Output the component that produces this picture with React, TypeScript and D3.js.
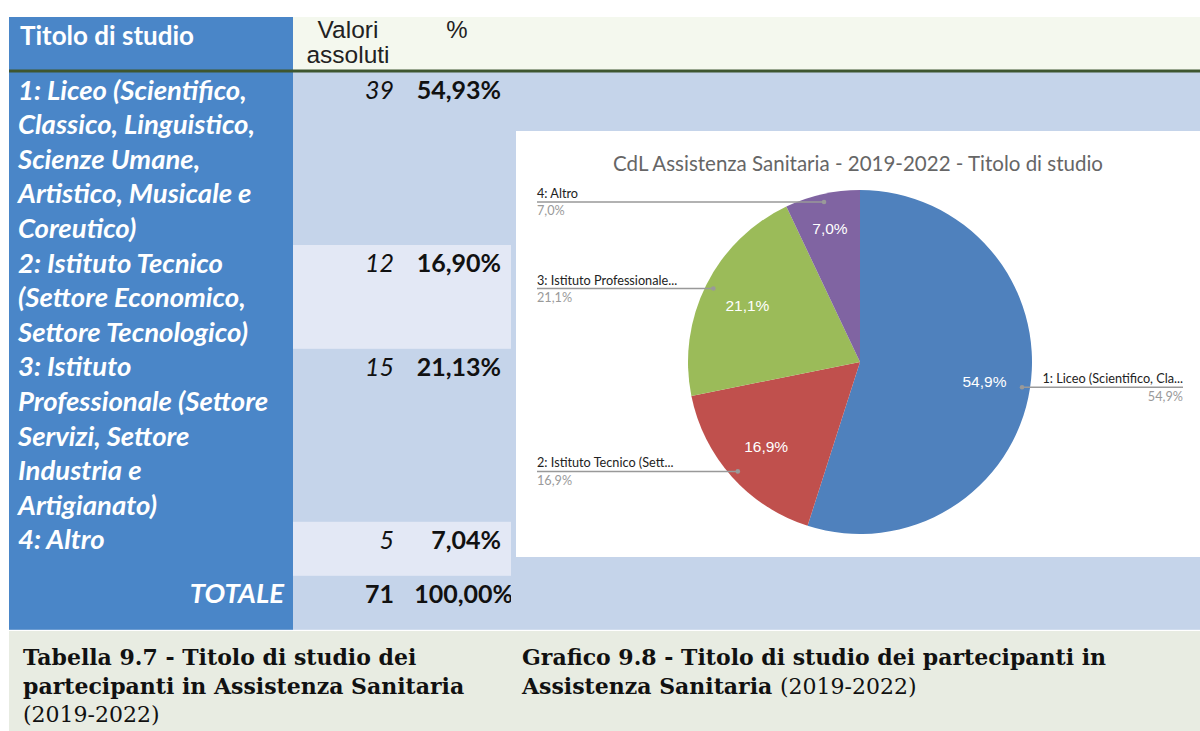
import * as d3 from 'd3';

// table rows as wrapped in the reference
const tableLines = [
  ['1: Liceo (Scientifico,', 'Classico, Linguistico,', 'Scienze Umane,', 'Artistico, Musicale e', 'Coreutico)'],
  ['2: Istituto Tecnico', '(Settore Economico,', 'Settore Tecnologico)'],
  ['3: Istituto', 'Professionale (Settore', 'Servizi, Settore', 'Industria e', 'Artigianato)'],
  ['4: Altro'],
];
const counts = [39, 12, 15, 5];
const chartLabels = [
  '1: Liceo (Scientifico, Cla...',
  '2: Istituto Tecnico (Sett...',
  '3: Istituto Professionale...',
  '4: Altro',
];
const colors = ['#4F81BD', '#C0504D', '#9BBB59', '#8064A2'];

const chartTitle = 'CdL Assistenza Sanitaria - 2019-2022 - Titolo di studio';
const caption1 = ['Tabella 9.7 - Titolo di studio dei', 'partecipanti in Assistenza Sanitaria'];
const caption1Year = '(2019-2022)';
const caption2 = ['Grafico 9.8 - Titolo di studio dei partecipanti in', 'Assistenza Sanitaria '];

const W = 1200;
const H = 731;
const colLeft = 9;
const colBlue = 293;
const colVal = 511;
const lineH = 34.6;
const sans = 'Lato, "Open Sans", sans-serif';
const arial = '"Liberation Sans", Arial, sans-serif';
const serif = '"DejaVu Serif", serif';

const it = d3.formatLocale({ decimal: ',', thousands: '.', grouping: [3], currency: ['', '€'] });
const pct2 = it.format('.2%');
const pct1 = it.format('.1%');

export default function App() {
  const total = d3.sum(counts);

  // row tops from the number of wrapped lines
  const rows = [];
  let top = 72;
  tableLines.forEach((lines, i) => {
    const h = Math.max(lines.length * lineH, 54);
    rows.push({ lines, top, h, count: counts[i], share: counts[i] / total, light: i % 2 === 1 });
    top += h;
  });
  const totalTop = top;

  const cx = 860;
  const cy = 362;
  const r = 172;
  const pie = d3.pie<number>().sort(null).startAngle(0).endAngle(2 * Math.PI);
  const arcs = pie(counts);
  const arc = d3.arc<d3.PieArcDatum<number>>().innerRadius(0).outerRadius(r);
  const labelArc = (d) => {
    const lr = d.endAngle - d.startAngle < 0.6 ? 137 : 126;
    return d3.arc<d3.PieArcDatum<number>>().innerRadius(lr).outerRadius(lr).centroid(d);
  };
  const dotArc = d3.arc<d3.PieArcDatum<number>>().innerRadius(164).outerRadius(164);

  return (
    <div style={{ position: 'absolute', left: 0, top: 0 }}>
      <svg width={W} height={H} style={{ display: 'block' }}>
        <defs>
          <clipPath id="valClip">
            <rect x={colBlue} y={0} width={colVal - colBlue} height={H} />
          </clipPath>
        </defs>
        <rect width={W} height={H} fill="#fff" />

        {/* header */}
        <rect x={colLeft} y={17} width={colBlue - colLeft} height={53} fill="#4A86C8" />
        <rect x={colBlue} y={17} width={W - colBlue} height={53} fill="#F4F8EE" />
        <text x={20} y={45} fill="#fff" fontFamily={sans} fontWeight={700} fontSize={26}>
          Titolo di studio
        </text>
        <text x={348} y={38} textAnchor="middle" fill="#222" fontFamily={arial} fontSize={24.5}>
          Valori
        </text>
        <text x={348} y={63} textAnchor="middle" fill="#222" fontFamily={arial} fontSize={24.5}>
          assoluti
        </text>
        <text x={457} y={38} textAnchor="middle" fill="#222" fontFamily={arial} fontSize={24}>
          %
        </text>

        {/* body */}
        <rect x={colLeft} y={72} width={colBlue - colLeft} height={totalTop + 54 - 72} fill="#4A86C8" />
        <rect x={colBlue} y={72} width={W - colBlue} height={totalTop + 54 - 72} fill="#C5D4EA" />
        <rect x={colLeft} y={69.5} width={W - colLeft} height={3} fill="#3E5630" />

        {rows.map((row, i) => (
          <g key={i}>
            {row.light && (
              <rect x={colBlue} y={row.top} width={colVal - colBlue} height={row.h} fill="#E3E8F5" />
            )}
            {row.lines.map((ln, j) => (
              <text
                key={j}
                x={18}
                y={row.top + 27.5 + j * lineH}
                fill="#fff"
                fontFamily={sans}
                fontWeight={700}
                fontStyle="italic"
                fontSize={27.5}
              >
                {ln}
              </text>
            ))}
            <text x={394} y={row.top + 27} textAnchor="end" fill="#111" fontFamily={sans} fontStyle="italic" fontSize={25}>
              {row.count}
            </text>
            <text x={501} y={row.top + 27} textAnchor="end" fill="#111" fontFamily={sans} fontWeight={700} fontSize={25}>
              {pct2(row.share)}
            </text>
          </g>
        ))}

        <text x={284} y={totalTop + 27.5} textAnchor="end" fill="#fff" fontFamily={sans} fontWeight={700} fontStyle="italic" fontSize={27.5}>
          TOTALE
        </text>
        <text x={394} y={totalTop + 27} textAnchor="end" fill="#111" fontFamily={sans} fontWeight={700} fontSize={25}>
          {total}
        </text>
        <text x={513} y={totalTop + 27} textAnchor="end" fill="#111" fontFamily={sans} fontWeight={700} fontSize={25} clipPath="url(#valClip)">
          {pct2(1)}
        </text>

        {/* chart panel */}
        <rect x={516} y={131} width={W - 516} height={426} fill="#fff" />
        <text x={858} y={171} textAnchor="middle" fill="#666" fontFamily={sans} fontSize={20.5}>
          {chartTitle}
        </text>
        <g transform={`translate(${cx},${cy})`}>
          {arcs.map((d, i) => (
            <path key={i} d={arc(d)} fill={colors[i]} />
          ))}
          {arcs.map((d, i) => {
            const [lx, ly] = labelArc(d);
            return (
              <text key={i} x={lx} y={ly} dy="0.36em" textAnchor="middle" fill="#fff" fontFamily={arial} fontSize={15.5}>
                {pct1(d.value / total)}
              </text>
            );
          })}
        </g>
        {arcs.map((d, i) => {
          const [dx, dy] = dotArc.centroid(d);
          const px = cx + dx;
          const py = cy + dy;
          const left = px < cx;
          const tx = left ? 537 : 1183;
          return (
            <g key={i}>
              <line x1={tx} x2={px} y1={py} y2={py} stroke="#999" strokeWidth={1.5} />
              <circle cx={px} cy={py} r={2.3} fill="#999" />
              <text x={tx} y={py - 4} textAnchor={left ? 'start' : 'end'} fill="#222" fontFamily={sans} fontSize={12.7}>
                {chartLabels[i]}
              </text>
              <text x={tx} y={py + 13.5} textAnchor={left ? 'start' : 'end'} fill="#9a9a9a" fontFamily={sans} fontSize={12.7}>
                {pct1(d.value / total)}
              </text>
            </g>
          );
        })}

        {/* captions */}
        <rect x={colLeft} y={631} width={W - colLeft} height={H - 631} fill="#E8ECE2" />
        {caption1.map((ln, i) => (
          <text key={i} x={23} y={665 + i * 28.5} fill="#111" fontFamily={serif} fontWeight={700} fontSize={22}>
            {ln}
          </text>
        ))}
        <text x={23} y={665 + 2 * 28.5} fill="#111" fontFamily={serif} fontSize={22}>
          {caption1Year}
        </text>
        <text x={522} y={665} fill="#111" fontFamily={serif} fontWeight={700} fontSize={22}>
          {caption2[0]}
        </text>
        <text x={522} y={665 + 28.5} fill="#111" fontFamily={serif} fontSize={22}>
          <tspan fontWeight={700}>{caption2[1]}</tspan>
          <tspan>{caption1Year}</tspan>
        </text>
      </svg>
    </div>
  );
}
